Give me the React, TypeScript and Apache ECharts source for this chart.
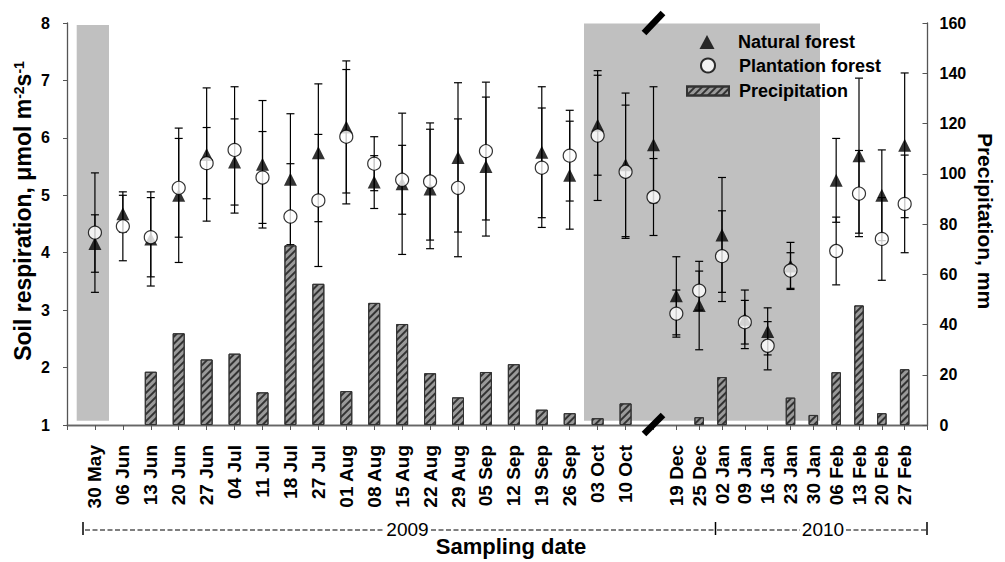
import React, { useEffect, useRef } from 'react';
import * as echarts from 'echarts';

const FONT = '"Liberation Sans", Arial, Helvetica, sans-serif';

// Section A: 30 May – 10 Oct 2009 (+ one unlabeled sampling at the axis break)
const labelsA = ['', '30 May', '06 Jun', '13 Jun', '20 Jun', '27 Jun', '04 Jul', '11 Jul', '18 Jul', '27 Jul', '01 Aug', '08 Aug', '15 Aug', '22 Aug', '29 Aug', '05 Sep', '12 Sep', '19 Sep', '26 Sep', '03 Oct', '10 Oct', ''];
const naturalA = [null, 4.16, 4.68, 4.24, 5.0, 5.71, 5.58, 5.54, 5.28, 5.74, 6.19, 5.23, 5.2, 5.11, 5.66, 5.5, null, 5.75, 5.35, 6.22, 5.53, 5.88];
const naturalErrA = [null, 0.5, 0.32, 0.82, 1.17, 1.16, 0.75, 1.11, 1.14, 1.2, 1.15, 0.46, 1.23, 1.04, 1.3, 1.21, null, 1.14, 0.94, 0.87, 1.25, 1.01];
const plantationA = [null, 4.35, 4.46, 4.27, 5.13, 5.56, 5.79, 5.31, 4.63, 4.91, 6.02, 5.55, 5.27, 5.24, 5.13, 5.77, null, 5.48, 5.69, 6.04, 5.41, 4.97];
const plantationErrA = [null, 1.04, 0.6, 0.69, 0.86, 0.62, 1.1, 0.8, 0.92, 1.15, 1.17, 0.47, 0.6, 1.02, 1.2, 1.2, null, 1.04, 0.79, 1.13, 1.16, 0.67];
const precipA = [null, null, null, 21.2, 36.5, 26.1, 28.4, 13.0, 71.5, 56.2, 13.5, 48.6, 40.2, 20.6, 11.0, 21.1, 24.2, 6.1, 4.7, 2.7, 8.6, null];

// Section B: 19 Dec 2009 – 27 Feb 2010
const labelsB = ['', '19 Dec', '25 Dec', '02 Jan', '09 Jan', '16 Jan', '23 Jan', '30 Jan', '06 Feb', '13 Feb', '20 Feb', '27 Feb', ''];
const naturalB = [null, 3.25, 3.08, 4.31, 2.84, 2.63, 3.77, null, 5.26, 5.69, 5.0, 5.87, null];
const naturalErrB = [null, 0.68, 0.77, 1.0, 0.51, 0.41, 0.41, null, 0.73, 1.35, 0.79, 1.26, null];
const plantationB = [null, 2.94, 3.34, 3.94, 2.79, 2.38, 3.69, null, 4.03, 5.03, 4.24, 4.85, null];
const plantationErrB = [null, 0.41, 0.34, 0.79, 0.38, 0.42, 0.31, null, 0.59, 0.75, 0.72, 0.85, null];
const precipB = [null, null, 3.1, 19.1, null, null, 10.9, 4.0, 21.0, 47.6, 4.7, 22.2, null];

const leftTicks = { min: 1, max: 8, interval: 1 };
const rightTicks = { min: 0, max: 160, interval: 20 };

const errData = (vals: (number | null)[], errs: (number | null)[]) =>
  vals.map((v, i) => (v == null ? null : [i, v, errs[i]])).filter((d) => d !== null);

const dash = (vals: (number | null)[]) => vals.map((v) => (v == null ? '-' : v));

const renderErr = (params: any, api: any) => {
  const x = api.value(0);
  const y = api.value(1);
  const e = api.value(2);
  const hi = api.coord([x, y + e]);
  const lo = api.coord([x, y - e]);
  const cw = 4;
  const st = { stroke: '#000', lineWidth: 1.2 };
  return {
    type: 'group',
    children: [
      { type: 'line', shape: { x1: hi[0], y1: hi[1], x2: lo[0], y2: lo[1] }, style: st },
      { type: 'line', shape: { x1: hi[0] - cw, y1: hi[1], x2: hi[0] + cw, y2: hi[1] }, style: st },
      { type: 'line', shape: { x1: lo[0] - cw, y1: lo[1], x2: lo[0] + cw, y2: lo[1] }, style: st },
    ],
  };
};

const barStyle = {
  color: '#9a9a9a',
  borderColor: '#333',
  borderWidth: 1,
  decal: {
    symbol: 'rect',
    symbolSize: 1,
    dashArrayX: [1, 0],
    dashArrayY: [1.6, 2.2],
    rotation: -Math.PI / 4,
    color: '#333',
  },
};

const axisLineStyle = { color: '#555', width: 1.3 };
const labelStyle = { color: '#000', fontWeight: 'bold' as const, fontFamily: FONT };

function makeX(grid: number, data: string[], top: boolean) {
  if (top) {
    return {
      gridIndex: grid, type: 'category', data, boundaryGap: false, position: 'top',
      axisLine: { show: true, lineStyle: { color: '#666', width: 1.3 } },
      axisTick: { show: false }, axisLabel: { show: false }, splitLine: { show: false },
    };
  }
  return {
    gridIndex: grid, type: 'category', data, boundaryGap: false, position: 'bottom',
    axisLine: { show: true, onZero: false, lineStyle: axisLineStyle },
    axisTick: { show: true, interval: 0, length: 5, lineStyle: { color: '#555' } },
    axisLabel: { ...labelStyle, interval: 0, rotate: 90, margin: 20, fontSize: 19 },
    splitLine: { show: false },
  };
}

const legendText = (pad: number) => ({
  fontSize: 18, fontWeight: 'bold', color: '#000', fontFamily: FONT, padding: [0, 0, 0, pad],
});

const option: any = {
  animation: false,
  backgroundColor: '#fff',
  textStyle: { fontFamily: FONT },
  grid: [
    { left: 67, top: 23, width: 586.5, height: 402 },
    { left: 653.5, top: 23, width: 274, height: 402 },
  ],
  xAxis: [makeX(0, labelsA, false), makeX(1, labelsB, false), makeX(0, labelsA, true), makeX(1, labelsB, true)],
  yAxis: [
    {
      gridIndex: 0, type: 'value', position: 'left', ...leftTicks,
      axisLine: { show: true, lineStyle: axisLineStyle },
      axisTick: { show: true, length: 4, lineStyle: { color: '#555' } },
      axisLabel: { ...labelStyle, fontSize: 16, margin: 17 },
      splitLine: { show: false },
    },
    { gridIndex: 0, type: 'value', ...rightTicks, show: false, splitLine: { show: false } },
    { gridIndex: 1, type: 'value', ...leftTicks, show: false, splitLine: { show: false } },
    {
      gridIndex: 1, type: 'value', position: 'right', ...rightTicks,
      axisLine: { show: true, lineStyle: axisLineStyle },
      axisTick: { show: true, inside: true, length: 5, lineStyle: { color: '#555' } },
      axisLabel: { ...labelStyle, fontSize: 16, margin: 12 },
      splitLine: { show: false },
    },
  ],
  legend: [
    {
      left: 699.5, top: 33, padding: 0, itemWidth: 15, itemHeight: 14, selectedMode: false,
      textStyle: legendText(18.5), data: [{ name: 'Natural forest', icon: 'triangle' }],
    },
    {
      left: 700, top: 56.5, padding: 0, itemWidth: 14, itemHeight: 14, selectedMode: false,
      textStyle: legendText(19), data: [{ name: 'Plantation forest', icon: 'circle' }],
    },
    {
      left: 686, top: 82, padding: 0, itemWidth: 42, itemHeight: 9, selectedMode: false,
      textStyle: legendText(5), data: [{ name: 'Precipitation', icon: 'rect' }],
    },
  ],
  series: [
    // Section A
    { type: 'custom', name: 'errNatA', xAxisIndex: 0, yAxisIndex: 0, renderItem: renderErr, data: errData(naturalA, naturalErrA), encode: { x: 0, y: 1 }, z: 2 },
    { type: 'custom', name: 'errPlaA', xAxisIndex: 0, yAxisIndex: 0, renderItem: renderErr, data: errData(plantationA, plantationErrA), encode: { x: 0, y: 1 }, z: 2 },
    { type: 'bar', name: 'Precipitation', xAxisIndex: 0, yAxisIndex: 1, data: dash(precipA), barWidth: 12, itemStyle: barStyle, z: 3 },
    { type: 'scatter', name: 'Natural forest', xAxisIndex: 0, yAxisIndex: 0, symbol: 'triangle', symbolSize: 13, clip: false, data: dash(naturalA), itemStyle: { color: '#000' }, z: 4 },
    { type: 'scatter', name: 'Plantation forest', xAxisIndex: 0, yAxisIndex: 0, symbol: 'circle', symbolSize: 13, clip: false, data: dash(plantationA), itemStyle: { color: '#fff', borderColor: '#000', borderWidth: 1.2 }, z: 5 },
    // Section B
    { type: 'custom', name: 'errNatB', xAxisIndex: 1, yAxisIndex: 2, renderItem: renderErr, data: errData(naturalB, naturalErrB), encode: { x: 0, y: 1 }, z: 2 },
    { type: 'custom', name: 'errPlaB', xAxisIndex: 1, yAxisIndex: 2, renderItem: renderErr, data: errData(plantationB, plantationErrB), encode: { x: 0, y: 1 }, z: 2 },
    { type: 'bar', name: 'Precipitation', xAxisIndex: 1, yAxisIndex: 3, data: dash(precipB), barWidth: 9.5, itemStyle: barStyle, z: 3 },
    { type: 'scatter', name: 'Natural forest', xAxisIndex: 1, yAxisIndex: 2, symbol: 'triangle', symbolSize: 13, clip: false, data: dash(naturalB), itemStyle: { color: '#000' }, z: 4 },
    { type: 'scatter', name: 'Plantation forest', xAxisIndex: 1, yAxisIndex: 2, symbol: 'circle', symbolSize: 13, clip: false, data: dash(plantationB), itemStyle: { color: '#fff', borderColor: '#000', borderWidth: 1.2 }, z: 5 },
  ],
  graphic: [
    { type: 'rect', z: 1, shape: { x: 76.7, y: 25, width: 32.3, height: 395.7 }, style: { fill: '#c0c0c0' } },
    { type: 'rect', z: 1, shape: { x: 584, y: 23.6, width: 236, height: 397.1 }, style: { fill: '#c0c0c0' } },
    { type: 'line', z: 50, shape: { x1: 644, y1: 33, x2: 663, y2: 13 }, style: { stroke: '#000', lineWidth: 6.5 } },
    { type: 'line', z: 50, shape: { x1: 644, y1: 434, x2: 663, y2: 415 }, style: { stroke: '#000', lineWidth: 6.5 } },
    {
      type: 'text', z: 50, x: 23, y: 211, rotation: Math.PI / 2,
      style: {
        text: 'Soil respiration, μmol m{sup|-2}s{sup|-1}',
        fontSize: 23, fontWeight: 'bold', fontFamily: FONT, fill: '#000', align: 'center', verticalAlign: 'middle',
        rich: { sup: { fontSize: 14, fontWeight: 'bold', fontFamily: FONT, verticalAlign: 'top', fill: '#000' } },
      },
    },
    {
      type: 'text', z: 50, x: 985, y: 221, rotation: -Math.PI / 2,
      style: { text: 'Precipitation, mm', fontSize: 21, fontWeight: 'bold', fontFamily: FONT, fill: '#000', align: 'center', verticalAlign: 'middle' },
    },
    {
      type: 'text', z: 50, x: 511, y: 546,
      style: { text: 'Sampling date', fontSize: 22, fontWeight: 'bold', fontFamily: FONT, fill: '#000', align: 'center', verticalAlign: 'middle' },
    },
    { type: 'text', z: 50, x: 407.5, y: 529, style: { text: '2009', fontSize: 19, fontFamily: FONT, fill: '#000', align: 'center', verticalAlign: 'middle' } },
    { type: 'text', z: 50, x: 823, y: 529, style: { text: '2010', fontSize: 19, fontFamily: FONT, fill: '#000', align: 'center', verticalAlign: 'middle' } },
    { type: 'line', z: 50, shape: { x1: 85, y1: 530, x2: 384, y2: 530 }, style: { stroke: '#000', lineWidth: 1.2, lineDash: [5, 2.5] } },
    { type: 'line', z: 50, shape: { x1: 431, y1: 530, x2: 714, y2: 530 }, style: { stroke: '#000', lineWidth: 1.2, lineDash: [5, 2.5] } },
    { type: 'line', z: 50, shape: { x1: 717, y1: 530, x2: 800, y2: 530 }, style: { stroke: '#000', lineWidth: 1.2, lineDash: [5, 2.5] } },
    { type: 'line', z: 50, shape: { x1: 846, y1: 530, x2: 926, y2: 530 }, style: { stroke: '#000', lineWidth: 1.2, lineDash: [5, 2.5] } },
    { type: 'line', z: 50, shape: { x1: 83, y1: 522, x2: 83, y2: 535 }, style: { stroke: '#000', lineWidth: 1.5 } },
    { type: 'line', z: 50, shape: { x1: 715.5, y1: 522, x2: 715.5, y2: 535 }, style: { stroke: '#000', lineWidth: 1.5 } },
    { type: 'line', z: 50, shape: { x1: 927, y1: 522, x2: 927, y2: 535 }, style: { stroke: '#000', lineWidth: 1.5 } },
  ],
};

export default function App() {
  const ref = useRef<HTMLDivElement>(null);
  useEffect(() => {
    if (!ref.current) return;
    const chart = echarts.init(ref.current, null, { renderer: 'svg' });
    chart.setOption(option);
    return () => chart.dispose();
  }, []);
  return <div ref={ref} style={{ position: 'absolute', left: 0, top: 0, width: 1005, height: 562 }} />;
}
